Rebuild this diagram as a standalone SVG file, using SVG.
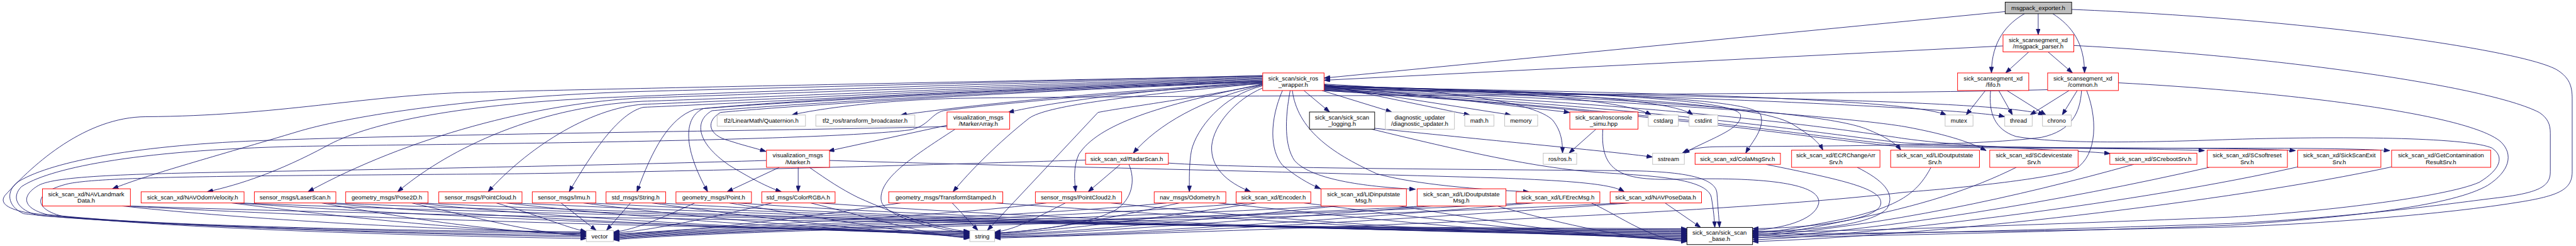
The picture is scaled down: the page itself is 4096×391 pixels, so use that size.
<svg xmlns="http://www.w3.org/2000/svg" width="4096" height="391" viewBox="0 0 4096 391">
<style>
.e{fill:none;stroke:#191970;stroke-width:1.3;marker-end:url(#a)}
.r{fill:#fff;stroke:#ff0000;stroke-width:1.4}
.g{fill:#fff;stroke:#bfbfbf;stroke-width:1.4}
.k{fill:#fff;stroke:#000;stroke-width:1.4}
.root{fill:#bfbfbf;stroke:#000;stroke-width:1.4}
text{font-family:"Liberation Sans",Arial,sans-serif;font-size:14px;text-anchor:middle;fill:#000}
</style>
<defs>
<marker id="a" markerUnits="userSpaceOnUse" viewBox="0 0 14 10" markerWidth="14" markerHeight="10" refX="14" refY="5" orient="auto"><path d="M0,0 L14,5 L0,10 z" fill="#191970" stroke="#191970"/></marker>
</defs>
<rect width="4096" height="391" fill="#fff"/>
<g transform="scale(0.682)">
<g id="edges">
<path class="e" d="M4752,32 L4752,81"/>
<path class="e" d="M4720,32 C4680,55 4643,95 4643,170"/>
<path class="e" d="M4786,32 C4830,60 4860,100 4860,170"/>
<path class="e" d="M4730,121 L4676,170"/>
<path class="e" d="M4775,121 L4832,170"/>
<path class="e" d="M4675,27 L3087,182"/>
<path class="e" d="M4670,107 L3087,187"/>
<path class="e" d="M4830,22 C5400,45 5900,120 5965,165 C5990,182 5997,200 5997,230 L5997,400 C5997,440 5970,455 5880,470 C5700,500 5400,522 5200,529 C4800,538 4300,545 4086,545"/>
<path class="e" d="M4835,106 C5300,130 5800,200 5920,262 C5940,275 5946,290 5946,310 L5946,400 C5946,435 5920,450 5814,462 C5700,476 5500,505 5200,521 C4800,535 4300,548 4086,549"/>
<path class="e" d="M4939,193 C5300,212 5750,262 5830,330 C5862,360 5850,400 5800,432 C5720,478 5500,505 5200,525 C4800,540 4300,552 4086,553"/>
<path class="e" d="M4641,211 C4636,262 4650,302 4700,318 C4800,336 5000,332 5200,325 C5500,316 5760,322 5810,345 C5840,365 5830,395 5780,425 C5700,460 5400,495 5200,506 C4800,522 4300,540 4086,541"/>
<path class="e" d="M4853,211 C4850,262 4830,305 4760,320 C4600,342 4200,340 4000,342 C3960,343 3940,348 3922,357"/>
<path class="e" d="M4865,211 C4895,290 4885,375 4830,398 C4750,420 4550,440 4440,448 C4000,500 3000,535 2319,555"/>
<path class="e" d="M4629,211 L4584,268"/>
<path class="e" d="M4660,211 L4692,268"/>
<path class="e" d="M4679,211 L4770,268"/>
<path class="e" d="M4824,211 L4733,268"/>
<path class="e" d="M4843,211 L4808,268"/>
<path class="e" d="M3087,203 C3900,215 4450,232 4538,268"/>
<path class="e" d="M3087,205 C3950,222 4600,255 4674,272"/>
<path class="e" d="M3087,207 C4000,225 4680,235 4766,268"/>
<path class="e" d="M4774,209 C4300,222 2700,222 2240,229 C2050,233 1900,255 1846,268"/>
<path class="e" d="M3040,211 L3100,261"/>
<path class="e" d="M3082,211 L3245,261"/>
<path class="e" d="M3087,198 L3427,268"/>
<path class="e" d="M3087,200 L3523,268"/>
<path class="e" d="M3087,196 C3400,212 3580,240 3620,280 C3640,305 3643,330 3643,357"/>
<path class="e" d="M3087,197 L3660,262"/>
<path class="e" d="M3087,199 C3500,212 3780,230 3850,268"/>
<path class="e" d="M3087,200 C3600,212 3900,232 3947,268"/>
<path class="e" d="M3087,201 C3700,214 4050,232 4058,268 C4062,300 3990,322 3925,357"/>
<path class="e" d="M3087,202 C3700,216 4090,228 4105,268 C4115,300 4085,330 4070,357"/>
<path class="e" d="M3087,204 C3700,220 4100,240 4180,290 C4220,315 4240,330 4250,350"/>
<path class="e" d="M3087,206 C3800,225 4250,262 4350,300 C4400,320 4420,335 4432,350"/>
<path class="e" d="M3087,208 C3800,232 4300,272 4440,295 C4550,315 4600,335 4631,351"/>
<path class="e" d="M3087,209 C3900,242 4300,302 4440,323 C4600,345 4850,350 4920,358"/>
<path class="e" d="M3087,210 C3900,250 4300,320 4440,333 C4700,348 5000,345 5140,351"/>
<path class="e" d="M3087,211 C3900,258 4300,330 4440,338 C4800,348 5200,342 5352,351"/>
<path class="e" d="M3087,211 C3900,262 4300,335 4440,342 C4900,350 5400,340 5572,351"/>
<path class="e" d="M2944,193 C2700,205 2450,238 2350,262"/>
<path class="e" d="M2944,192 C2600,212 2300,240 2100,268"/>
<path class="e" d="M2944,194 C2600,226 2440,248 2400,275 C2330,330 2260,400 2222,447"/>
<path class="e" d="M2944,197 C2750,235 2620,250 2560,262 L2302,537"/>
<path class="e" d="M2944,196 C2700,245 2560,290 2515,360 C2502,390 2505,420 2508,447"/>
<path class="e" d="M2944,198 C2800,232 2700,290 2642,357"/>
<path class="e" d="M2944,200 C2850,222 2790,300 2778,350 C2772,380 2773,420 2773,447"/>
<path class="e" d="M2944,205 C2880,232 2830,290 2825,340 C2822,390 2860,425 2916,447"/>
<path class="e" d="M2990,211 C2960,280 2960,350 2990,385 C3020,410 3050,428 3079,440"/>
<path class="e" d="M3008,211 C2995,280 2995,340 3018,374 C3060,422 3200,436 3300,441"/>
<path class="e" d="M3013,211 C3025,300 3100,355 3210,405 C3300,430 3450,442 3565,447"/>
<path class="e" d="M2944,176 C2400,190 1800,205 1500,213 C1100,225 820,270 700,305 C500,365 350,405 262,440"/>
<path class="e" d="M2944,178 C2300,195 1700,215 1400,228 C1050,245 850,290 760,341 C650,400 560,430 483,447"/>
<path class="e" d="M2944,180 C2300,200 1700,222 1500,228 C1250,240 950,320 718,447"/>
<path class="e" d="M2944,182 C2300,203 1700,230 1500,236 C1230,250 1030,360 927,447"/>
<path class="e" d="M2944,184 C2300,206 1700,236 1500,243 C1370,252 1225,350 1138,447"/>
<path class="e" d="M2944,186 C2300,208 1700,242 1500,250 C1450,262 1395,330 1327,447"/>
<path class="e" d="M2944,188 C2300,210 1800,236 1620,255 C1560,275 1520,350 1485,447"/>
<path class="e" d="M2944,189 C2300,212 1800,240 1640,253 C1595,272 1590,340 1650,447"/>
<path class="e" d="M2944,190 C2300,214 1800,246 1660,258 C1620,280 1620,330 1700,385 C1760,422 1800,440 1822,447"/>
<path class="e" d="M2944,191 C2300,216 1800,250 1680,262 C1645,282 1650,315 1700,328 C1730,338 1760,345 1786,353"/>
<path class="e" d="M2944,177 C2300,190 1500,205 1100,215 C850,222 650,270 340,272 C200,273 80,380 12,455 C0,470 10,485 60,495 C250,522 800,537 1367,541"/>
<path class="e" d="M2208,295 C1800,305 1000,312 600,328 C300,340 110,380 40,425 C15,445 15,480 55,498 C300,525 900,540 1367,545"/>
<path class="e" d="M2944,195 C2600,215 2300,245 2200,258 C2170,265 2165,295 2120,303 C1900,330 1000,336 700,341 C300,350 110,395 50,435 C25,460 40,490 90,502 C400,530 1000,545 1367,549"/>
<path class="e" d="M1787,374 C1500,383 900,395 600,400 C300,405 130,410 90,432 C50,455 50,485 110,500 C400,530 1000,547 1367,552"/>
<path class="e" d="M2531,373 C2200,383 1700,398 1200,405 C600,410 250,410 160,428 C75,448 75,488 150,505 C450,535 1000,550 1367,556"/>
<path class="e" d="M1861,390 L1861,447"/>
<path class="e" d="M1817,390 L1695,447"/>
<path class="e" d="M1887,390 C1930,420 1960,440 2000,460 C2100,505 2180,530 2261,541"/>
<path class="e" d="M1934,374 C2300,385 3000,400 3500,415 C3680,422 3760,430 3787,447"/>
<path class="e" d="M2208,292 L1931,352"/>
<path class="e" d="M2227,301 C2120,370 2045,420 2055,470 C2065,500 2150,530 2261,544"/>
<path class="e" d="M2612,383 L2537,447"/>
<path class="e" d="M2632,383 C2648,420 2640,465 2600,490 C2540,522 2420,537 2319,544"/>
<path class="e" d="M2724,380 C2900,393 3500,395 3800,398 C3950,400 4000,420 4003,450 C4005,480 4007,500 4009,530"/>
<path class="e" d="M3205,299 C3500,330 3750,352 3853,366"/>
<path class="e" d="M3198,301 C3400,350 3580,392 3730,402 C3850,410 3980,415 3990,460 C3995,490 3997,510 3998,530"/>
<path class="e" d="M3721,301 L3658,357"/>
<path class="e" d="M3737,301 C3730,400 3780,420 3900,418 C4100,412 4250,425 4240,475 C4230,515 4150,533 4086,537"/>
<path class="e" d="M4117,383 C4300,420 4390,440 4385,475 C4380,510 4250,530 4086,533"/>
<path class="e" d="M4330,390 C4390,420 4420,450 4400,485 C4370,520 4250,538 4086,539"/>
<path class="e" d="M4502,390 C4470,450 4430,480 4300,510 C4200,530 4130,542 4086,543"/>
<path class="e" d="M4701,390 C4600,440 4480,480 4300,515 C4200,537 4130,546 4086,547"/>
<path class="e" d="M4975,383 C4700,460 4400,525 4086,551"/>
<path class="e" d="M5151,390 C4800,470 4400,535 4086,555"/>
<path class="e" d="M5357,389 C5000,470 4400,545 4086,559"/>
<path class="e" d="M5576,389 C5200,470 4500,550 4086,563"/>
<path class="e" d="M285,480 C500,505 1000,538 1367,541"/>
<path class="e" d="M295,480 C800,510 1800,536 2261,539"/>
<path class="e" d="M300,480 C1200,512 3000,530 3933,533"/>
<path class="e" d="M540,473 C750,500 1100,540 1367,544"/>
<path class="e" d="M550,473 C1000,505 1800,538 2261,541"/>
<path class="e" d="M560,473 C1400,508 3000,532 3933,535"/>
<path class="e" d="M750,473 C900,500 1150,543 1367,547"/>
<path class="e" d="M760,473 C1100,505 1850,540 2261,543"/>
<path class="e" d="M770,473 C1600,508 3100,534 3933,537"/>
<path class="e" d="M960,473 C1080,500 1250,546 1367,550"/>
<path class="e" d="M970,473 C1250,505 1900,542 2261,545"/>
<path class="e" d="M980,473 C1700,508 3100,536 3933,539"/>
<path class="e" d="M1157,473 C1250,500 1320,530 1367,540"/>
<path class="e" d="M1180,473 C1450,505 2000,544 2261,547"/>
<path class="e" d="M1195,473 C1900,508 3100,538 3933,541"/>
<path class="e" d="M1308,473 L1390,537"/>
<path class="e" d="M1360,473 C1600,505 2050,546 2261,549"/>
<path class="e" d="M1375,473 C2000,508 3200,540 3933,543"/>
<path class="e" d="M1470,473 L1414,537"/>
<path class="e" d="M1520,473 C1750,505 2100,548 2261,551"/>
<path class="e" d="M1535,473 C2100,508 3200,542 3933,545"/>
<path class="e" d="M1620,473 C1550,505 1480,536 1430,541"/>
<path class="e" d="M1700,473 C1900,505 2150,550 2261,553"/>
<path class="e" d="M1720,473 C2200,508 3300,544 3933,547"/>
<path class="e" d="M1800,473 C1650,510 1500,540 1430,543"/>
<path class="e" d="M1890,473 C2020,505 2170,550 2261,555"/>
<path class="e" d="M1910,473 C2400,508 3300,546 3933,549"/>
<path class="e" d="M2100,473 C1850,510 1600,542 1430,545"/>
<path class="e" d="M2220,473 L2280,537"/>
<path class="e" d="M2320,473 C2800,505 3400,548 3933,551"/>
<path class="e" d="M2440,473 C2200,505 1700,525 1430,547"/>
<path class="e" d="M2484,473 C2420,505 2370,535 2319,541"/>
<path class="e" d="M2590,473 C2900,505 3450,550 3933,553"/>
<path class="e" d="M2720,473 C2400,505 1750,525 1430,549"/>
<path class="e" d="M2750,473 C2600,505 2450,538 2319,543"/>
<path class="e" d="M2840,473 C3150,505 3550,552 3933,555"/>
<path class="e" d="M2910,473 C2500,508 1750,527 1430,551"/>
<path class="e" d="M2930,473 C2700,508 2450,540 2319,545"/>
<path class="e" d="M3040,473 C3300,505 3650,554 3933,557"/>
<path class="e" d="M3100,480 C2600,510 1750,528 1430,553"/>
<path class="e" d="M3120,480 C2800,512 2500,542 2319,547"/>
<path class="e" d="M3260,480 C3450,510 3700,556 3933,559"/>
<path class="e" d="M3320,480 C2800,512 1750,529 1430,555"/>
<path class="e" d="M3340,480 C2900,515 2500,544 2319,549"/>
<path class="e" d="M3490,480 C3600,510 3780,558 3933,561"/>
<path class="e" d="M3555,473 C2900,512 1750,530 1430,557"/>
<path class="e" d="M3575,473 C3100,515 2600,546 2319,551"/>
<path class="e" d="M3710,473 C3780,505 3850,560 3933,563"/>
<path class="e" d="M3780,473 C3000,515 1750,531 1430,559"/>
<path class="e" d="M3800,473 C3200,518 2600,548 2319,553"/>
<path class="e" d="M3882,473 L3965,530"/>
</g>
<g id="msgpack_exporter"><rect class="root" x="4675" y="5" width="155" height="27"/><text x="4752" y="23">msgpack_exporter.h</text></g>
<g id="msgpack_parser"><rect class="r" x="4670" y="81" width="165" height="40"/><text x="4752" y="98">sick_scansegment_xd</text><text x="4752" y="113">/msgpack_parser.h</text></g>
<g id="sick_ros_wrapper"><rect class="r" x="2944" y="170" width="143" height="41"/><text x="3015" y="187">sick_scan/sick_ros</text><text x="3015" y="202">_wrapper.h</text></g>
<g id="fifo"><rect class="r" x="4564" y="170" width="166" height="41"/><text x="4647" y="187">sick_scansegment_xd</text><text x="4647" y="202">/fifo.h</text></g>
<g id="common"><rect class="r" x="4774" y="170" width="165" height="41"/><text x="4856" y="187">sick_scansegment_xd</text><text x="4856" y="202">/common.h</text></g>
<g id="MarkerArray"><rect class="r" x="2208" y="261" width="146" height="40"/><text x="2281" y="278">visualization_msgs</text><text x="2281" y="293">/MarkerArray.h</text></g>
<g id="Quaternion"><rect class="g" x="1672" y="268" width="206" height="26"/><text x="1775" y="286">tf2/LinearMath/Quaternion.h</text></g>
<g id="transform_broadcaster"><rect class="g" x="1902" y="268" width="231" height="26"/><text x="2017" y="286">tf2_ros/transform_broadcaster.h</text></g>
<g id="sick_scan_logging"><rect class="k" x="3053" y="261" width="152" height="40"/><text x="3129" y="278">sick_scan/sick_scan</text><text x="3129" y="293">_logging.h</text></g>
<g id="diagnostic_updater"><rect class="g" x="3230" y="261" width="161" height="40"/><text x="3310" y="278">diagnostic_updater</text><text x="3310" y="293">/diagnostic_updater.h</text></g>
<g id="math_h"><rect class="g" x="3415" y="268" width="68" height="26"/><text x="3449" y="286">math.h</text></g>
<g id="memory"><rect class="g" x="3508" y="268" width="77" height="26"/><text x="3546" y="286">memory</text></g>
<g id="rosconsole_simu"><rect class="r" x="3660" y="261" width="159" height="40"/><text x="3739" y="278">sick_scan/rosconsole</text><text x="3739" y="293">_simu.hpp</text></g>
<g id="cstdarg"><rect class="g" x="3843" y="268" width="70" height="26"/><text x="3878" y="286">cstdarg</text></g>
<g id="cstdint"><rect class="g" x="3938" y="268" width="67" height="26"/><text x="3971" y="286">cstdint</text></g>
<g id="mutex"><rect class="g" x="4535" y="268" width="65" height="26"/><text x="4567" y="286">mutex</text></g>
<g id="thread"><rect class="g" x="4674" y="268" width="64" height="26"/><text x="4706" y="286">thread</text></g>
<g id="chrono"><rect class="g" x="4762" y="268" width="67" height="26"/><text x="4795" y="286">chrono</text></g>
<g id="Marker"><rect class="r" x="1787" y="350" width="147" height="40"/><text x="1860" y="367">visualization_msgs</text><text x="1860" y="382">/Marker.h</text></g>
<g id="RadarScan"><rect class="r" x="2531" y="357" width="193" height="26"/><text x="2627" y="375">sick_scan_xd/RadarScan.h</text></g>
<g id="ros_h"><rect class="g" x="3598" y="357" width="78" height="26"/><text x="3637" y="375">ros/ros.h</text></g>
<g id="sstream"><rect class="g" x="3853" y="357" width="74" height="26"/><text x="3890" y="375">sstream</text></g>
<g id="ColaMsgSrv"><rect class="r" x="3952" y="357" width="199" height="26"/><text x="4051" y="375">sick_scan_xd/ColaMsgSrv.h</text></g>
<g id="ECRChangeArrSrv"><rect class="r" x="4177" y="350" width="206" height="40"/><text x="4280" y="367">sick_scan_xd/ECRChangeArr</text><text x="4280" y="382">Srv.h</text></g>
<g id="LIDoutputstateSrv"><rect class="r" x="4408" y="350" width="207" height="40"/><text x="4511" y="367">sick_scan_xd/LIDoutputstate</text><text x="4511" y="382">Srv.h</text></g>
<g id="SCdevicestateSrv"><rect class="r" x="4639" y="350" width="206" height="40"/><text x="4742" y="367">sick_scan_xd/SCdevicestate</text><text x="4742" y="382">Srv.h</text></g>
<g id="SCrebootSrv"><rect class="r" x="4919" y="357" width="203" height="26"/><text x="5020" y="375">sick_scan_xd/SCrebootSrv.h</text></g>
<g id="SCsoftresetSrv"><rect class="r" x="5146" y="350" width="187" height="40"/><text x="5239" y="367">sick_scan_xd/SCsoftreset</text><text x="5239" y="382">Srv.h</text></g>
<g id="SickScanExitSrv"><rect class="r" x="5357" y="350" width="194" height="40"/><text x="5454" y="367">sick_scan_xd/SickScanExit</text><text x="5454" y="382">Srv.h</text></g>
<g id="GetContaminationResultSrv"><rect class="r" x="5576" y="350" width="231" height="40"/><text x="5691" y="367">sick_scan_xd/GetContamination</text><text x="5691" y="382">ResultSrv.h</text></g>
<g id="NAVLandmarkData"><rect class="r" x="99" y="440" width="205" height="40"/><text x="201" y="457">sick_scan_xd/NAVLandmark</text><text x="201" y="472">Data.h</text></g>
<g id="NAVOdomVelocity"><rect class="r" x="329" y="447" width="240" height="26"/><text x="449" y="465">sick_scan_xd/NAVOdomVelocity.h</text></g>
<g id="LaserScan"><rect class="r" x="593" y="447" width="190" height="26"/><text x="688" y="465">sensor_msgs/LaserScan.h</text></g>
<g id="Pose2D"><rect class="r" x="806" y="447" width="192" height="26"/><text x="902" y="465">geometry_msgs/Pose2D.h</text></g>
<g id="PointCloud"><rect class="r" x="1023" y="447" width="194" height="26"/><text x="1120" y="465">sensor_msgs/PointCloud.h</text></g>
<g id="Imu"><rect class="r" x="1241" y="447" width="148" height="26"/><text x="1315" y="465">sensor_msgs/Imu.h</text></g>
<g id="String"><rect class="r" x="1413" y="447" width="139" height="26"/><text x="1482" y="465">std_msgs/String.h</text></g>
<g id="Point"><rect class="r" x="1576" y="447" width="176" height="26"/><text x="1664" y="465">geometry_msgs/Point.h</text></g>
<g id="ColorRGBA"><rect class="r" x="1776" y="447" width="171" height="26"/><text x="1861" y="465">std_msgs/ColorRGBA.h</text></g>
<g id="TransformStamped"><rect class="r" x="2072" y="447" width="266" height="26"/><text x="2205" y="465">geometry_msgs/TransformStamped.h</text></g>
<g id="PointCloud2"><rect class="r" x="2414" y="447" width="201" height="26"/><text x="2514" y="465">sensor_msgs/PointCloud2.h</text></g>
<g id="Odometry"><rect class="r" x="2691" y="447" width="167" height="26"/><text x="2774" y="465">nav_msgs/Odometry.h</text></g>
<g id="Encoder"><rect class="r" x="2882" y="447" width="174" height="26"/><text x="2969" y="465">sick_scan_xd/Encoder.h</text></g>
<g id="LIDinputstateMsg"><rect class="r" x="3080" y="440" width="199" height="40"/><text x="3179" y="457">sick_scan_xd/LIDinputstate</text><text x="3179" y="472">Msg.h</text></g>
<g id="LIDoutputstateMsg"><rect class="r" x="3304" y="440" width="207" height="40"/><text x="3407" y="457">sick_scan_xd/LIDoutputstate</text><text x="3407" y="472">Msg.h</text></g>
<g id="LFErecMsg"><rect class="r" x="3535" y="447" width="195" height="26"/><text x="3632" y="465">sick_scan_xd/LFErecMsg.h</text></g>
<g id="NAVPoseData"><rect class="r" x="3754" y="447" width="213" height="26"/><text x="3860" y="465">sick_scan_xd/NAVPoseData.h</text></g>
<g id="vector"><rect class="g" x="1367" y="537" width="63" height="26"/><text x="1398" y="555">vector</text></g>
<g id="string"><rect class="g" x="2261" y="537" width="58" height="26"/><text x="2290" y="555">string</text></g>
<g id="sick_scan_base"><rect class="k" x="3933" y="530" width="153" height="40"/><text x="4009" y="547">sick_scan/sick_scan</text><text x="4009" y="562">_base.h</text></g>
</g>
</svg>
